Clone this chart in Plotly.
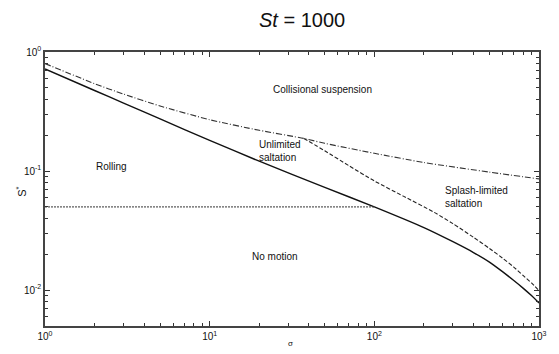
import numpy as np
import plotly.graph_objects as go

# Regime boundaries in the (sigma, S*) plane for St = 1000
sigma_motion = [1, 2, 3, 5, 10, 20, 50, 100, 200, 300, 400, 500, 600, 700, 800, 900, 1000]
s_motion = [0.72, 0.475, 0.372, 0.274, 0.181, 0.121, 0.073, 0.05, 0.0335, 0.0255,
            0.0207, 0.0172, 0.0143, 0.0121, 0.0104, 0.0090, 0.0078]

sigma_susp = [1, 2, 3, 5, 10, 20, 37.3, 50, 100, 200, 500, 1000]
s_susp = [0.80, 0.542, 0.443, 0.352, 0.27, 0.22, 0.188, 0.171, 0.141, 0.118, 0.098, 0.086]

sigma_splash = [37.3, 50, 70, 100, 150, 231, 300, 400, 500, 600, 700, 800, 900, 1000]
s_splash = [0.188, 0.148, 0.111, 0.0826, 0.0616, 0.045, 0.0362, 0.0278, 0.0224,
            0.0186, 0.0157, 0.0133, 0.0115, 0.0099]

sigma_roll = [1, 100]
s_roll = [0.05, 0.05]

regions = ["Collisional suspension", "Rolling", "Unlimited<br>saltation",
           "Splash-limited<br>saltation", "No motion"]
region_sigma = [23.7, 1.98, 19.5, 260, 17.5]
region_s = [0.48, 0.11, 0.147, 0.060, 0.019]

x_ticks = [1, 10, 100, 1000]
x_ticktext = ["10<sup>0</sup>", "10<sup>1</sup>", "10<sup>2</sup>", "10<sup>3</sup>"]
y_ticks = [0.01, 0.1, 1]
y_ticktext = ["10<sup>-2</sup>", "10<sup>-1</sup>", "10<sup>0</sup>"]

x_minor = [m * 10 ** d for d in range(0, 3) for m in range(2, 10)]
y_minor = [m * 10 ** d for d in range(-3, 0) for m in range(2, 10)]

fig = go.Figure()
fig.add_trace(go.Scatter(x=sigma_motion, y=s_motion, mode="lines",
                         line=dict(color="#111", width=1.4, shape="spline", smoothing=0.6)))
fig.add_trace(go.Scatter(x=sigma_susp, y=s_susp, mode="lines",
                         line=dict(color="#333", width=1.1, dash="6px,2px,1px,2px",
                                   shape="spline", smoothing=0.6)))
fig.add_trace(go.Scatter(x=sigma_splash, y=s_splash, mode="lines",
                         line=dict(color="#222", width=1.1, dash="4px,2px",
                                   shape="spline", smoothing=0.6)))
fig.add_trace(go.Scatter(x=sigma_roll, y=s_roll, mode="lines",
                         line=dict(color="#333", width=1, dash="2px,1px")))

for txt, sx, sy in zip(regions, region_sigma, region_s):
    fig.add_annotation(x=np.log10(sx), y=np.log10(sy), text=txt, showarrow=False,
                       xanchor="left", yanchor="middle", align="left",
                       font=dict(family="Liberation Sans, Arial", size=10, color="#111"))

fig.add_annotation(xref="paper", yref="paper", x=0.52, y=1.0, yshift=32,
                   text="<i>St</i> = 1000", showarrow=False, xanchor="center",
                   yanchor="middle", font=dict(family="Liberation Sans, Arial", size=20, color="#111"))
fig.add_annotation(xref="paper", yref="paper", x=0.0, xshift=-33, y=0.49,
                   text="S<sup>*</sup>", showarrow=False, textangle=-90,
                   font=dict(family="Liberation Sans, Arial", size=11, color="#111"))
fig.add_annotation(xref="paper", yref="paper", x=0.496, y=0.0, yshift=-24,
                   text="σ", showarrow=False,
                   font=dict(family="Liberation Sans, Arial", size=8, color="#111"))

axis_common = dict(
    type="log", showgrid=False, zeroline=False,
    showline=True, linecolor="#444", linewidth=1.5, mirror="allticks",
    ticks="inside", ticklen=5, tickwidth=1, tickcolor="#333",
    tickfont=dict(family="Liberation Sans, Arial", size=10, color="#111"),
    tickmode="array",
)

fig.update_xaxes(**axis_common, range=[0, 3], tickvals=x_ticks, ticktext=x_ticktext,
                 minor=dict(tickmode="array", tickvals=x_minor, ticks="inside",
                            ticklen=3, tickcolor="#333", showgrid=False))
fig.update_yaxes(**axis_common, range=[np.log10(0.005), 0], tickvals=y_ticks,
                 ticktext=y_ticktext,
                 minor=dict(tickmode="array", tickvals=y_minor, ticks="inside",
                            ticklen=3, tickcolor="#333", showgrid=False))

fig.update_layout(
    width=559, height=354,
    margin=dict(l=45, r=16, t=52, b=27),
    paper_bgcolor="white", plot_bgcolor="white",
    showlegend=False,
)

fig.write_html("out.html")
